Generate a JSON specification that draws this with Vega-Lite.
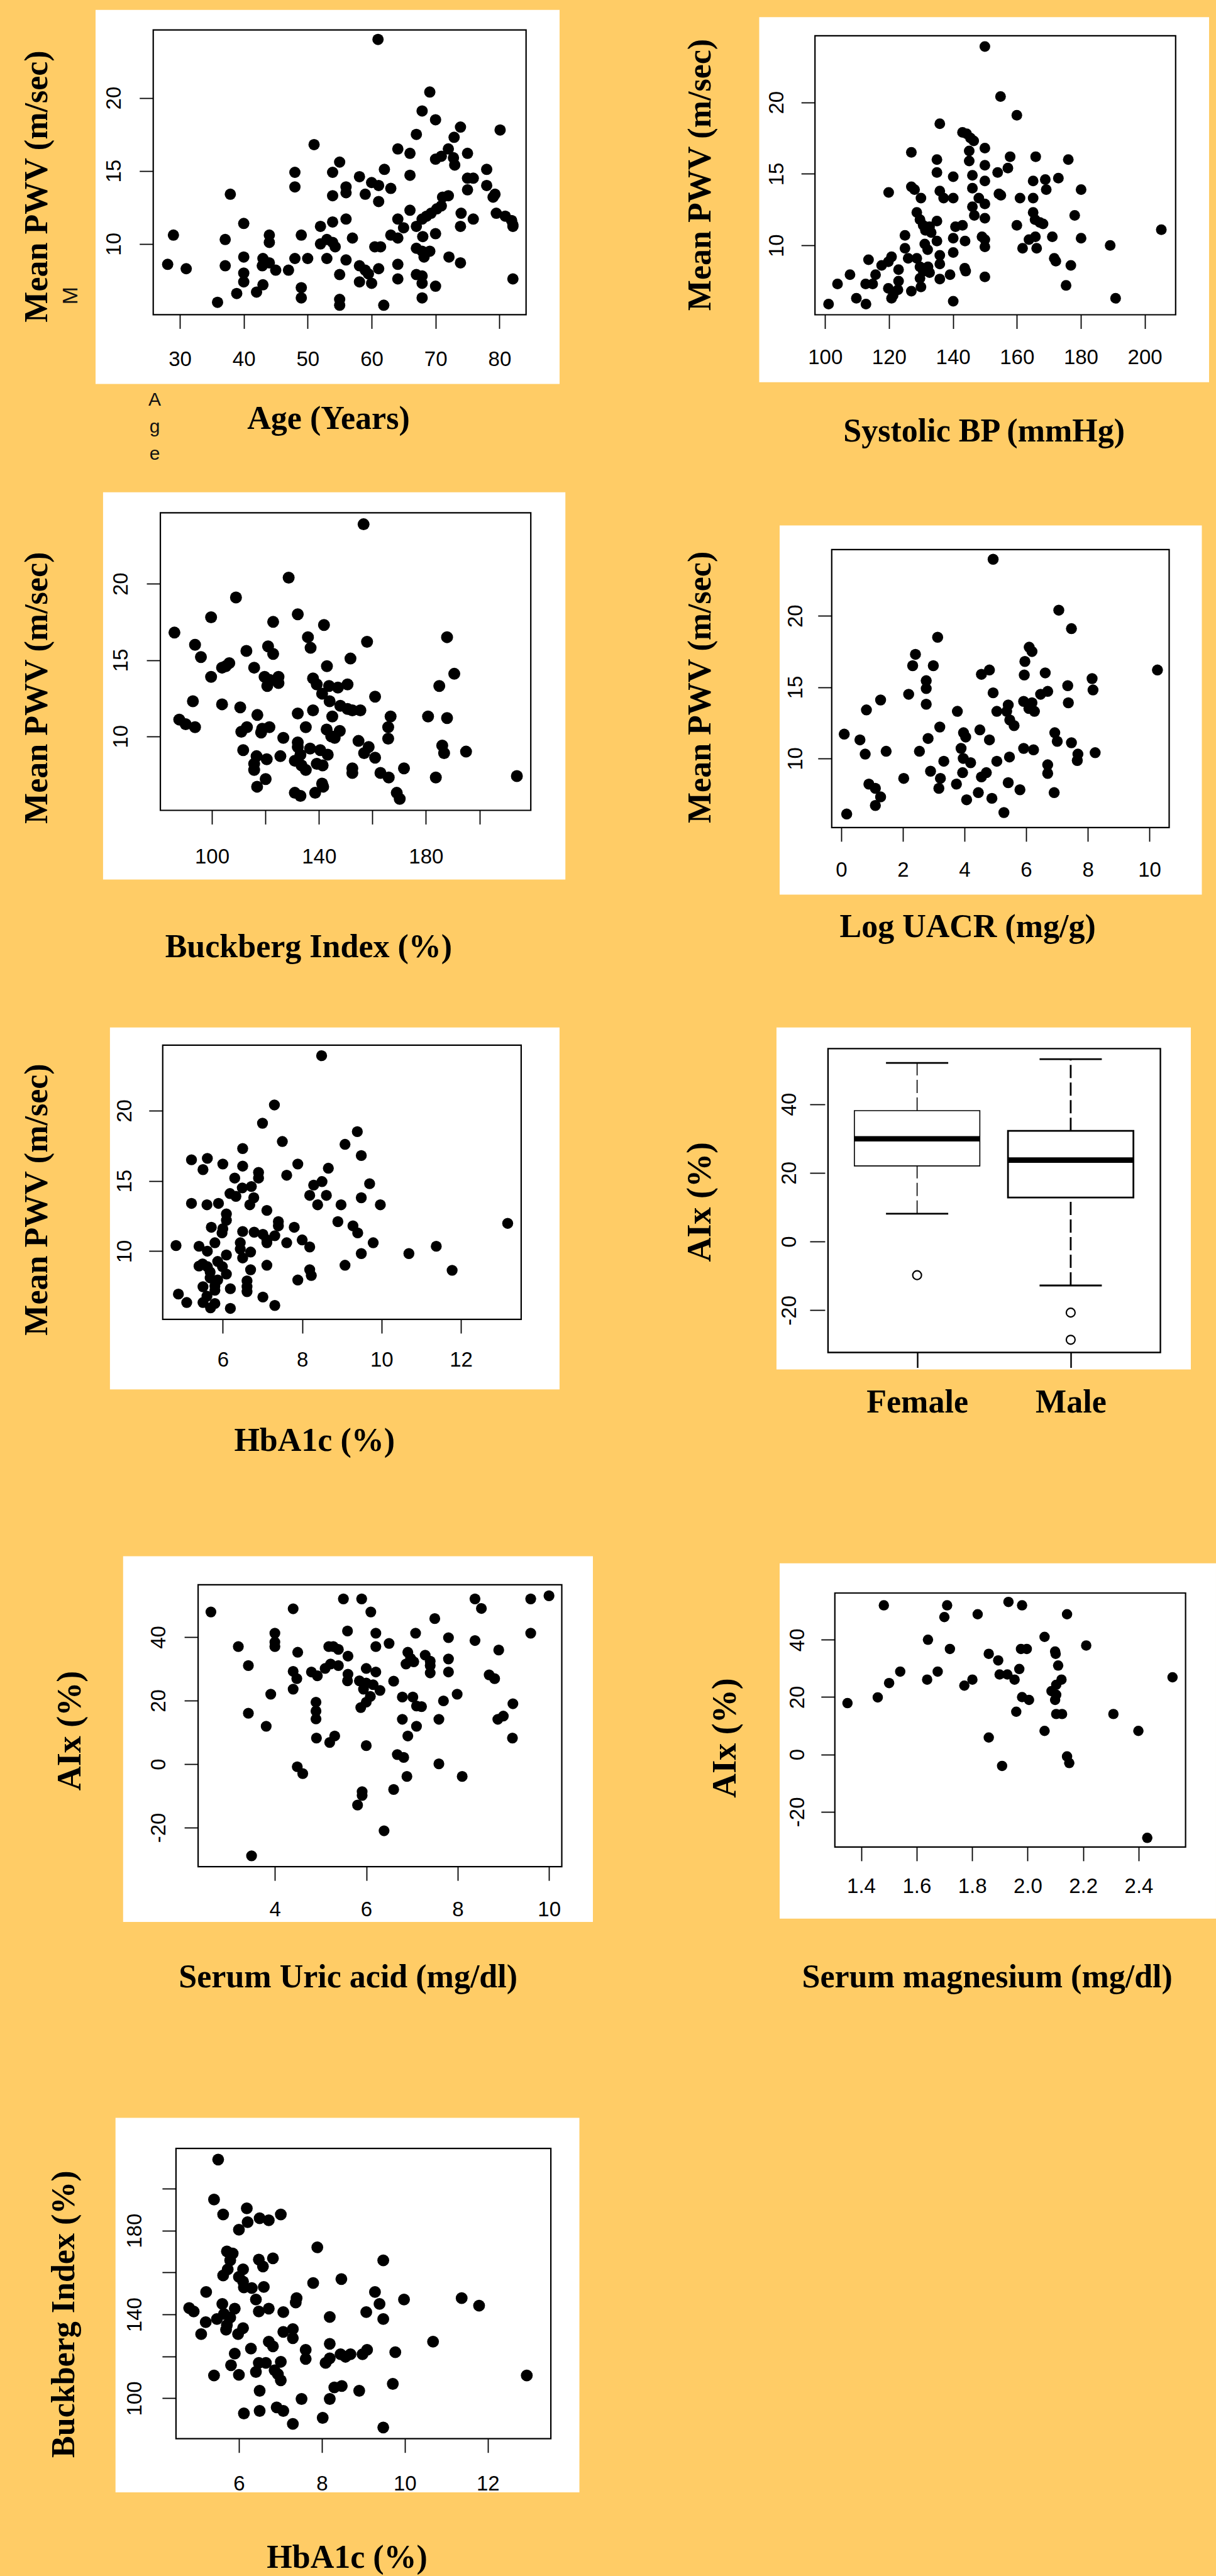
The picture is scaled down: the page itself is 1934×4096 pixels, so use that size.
{
"$schema": "https://vega.github.io/schema/vega-lite/v6.json",
"background": "#FFCC66",
"padding": 0,
"columns": 2,
"spacing": 0,
"bounds": "flush",
"align": "each",
"config": {
  "view": {"fill": "#FFCC66", "stroke": null},
  "axis": {"domain": false, "grid": false, "ticks": true, "tickSize": 22, "tickWidth": 1.8, "tickColor": "black", "labelFont": "Liberation Sans", "labelFontSize": 33, "labelColor": "black", "labelOverlap": false, "labelFlush": false, "labelLimit": 1000, "titleFont": "Liberation Serif", "titleFontSize": 52, "titleFontWeight": "bold", "titleColor": "black", "titleAlign": "center", "titleBaseline": "alphabetic", "titleLimit": 3000, "zindex": 1}
},
"concat": [
{
 "width": 967, "height": 750,
 "layer": [
  {"data": {"values": [{}]}, "mark": {"type": "rect", "fill": "white"},
   "encoding": {"x": {"datum": 16.82, "type": "quantitative", "scale": {"domain": [25.84, 84.16], "range": [243.7, 836.7], "nice": false, "zero": false}}, "x2": {"datum": 89.4},
                "y": {"datum": 0.41, "type": "quantitative", "scale": {"domain": [5.15, 24.65], "range": [500.4, 47.6], "nice": false, "zero": false}}, "y2": {"datum": 26.02}}},
  {"data": {"values": [{}]}, "mark": {"type": "text", "text": "M", "angle": 270, "align": "center", "baseline": "alphabetic", "font": "Liberation Sans", "fontSize": 34, "color": "#111"},
   "encoding": {"x": {"datum": 13.95, "type": "quantitative", "scale": {"domain": [25.84, 84.16], "range": [243.7, 836.7], "nice": false, "zero": false}},
                "y": {"datum": 6.46, "type": "quantitative", "scale": {"domain": [5.15, 24.65], "range": [500.4, 47.6], "nice": false, "zero": false}}}},
  {"data": {"values": [{}]}, "mark": {"type": "text", "text": ["A", "g", "e"], "lineHeight": 43, "align": "center", "baseline": "alphabetic", "font": "Liberation Sans", "fontSize": 30, "color": "#111"},
   "encoding": {"x": {"datum": 26.07, "type": "quantitative", "scale": {"domain": [25.84, 84.16], "range": [243.7, 836.7], "nice": false, "zero": false}},
                "y": {"datum": -1.06, "type": "quantitative", "scale": {"domain": [5.15, 24.65], "range": [500.4, 47.6], "nice": false, "zero": false}}}},
  {"data": {"values": [{}]}, "mark": {"type": "rect", "fillOpacity": 0, "stroke": "black", "strokeWidth": 2.2},
   "encoding": {"x": {"datum": 25.84, "type": "quantitative", "scale": {"domain": [25.84, 84.16], "range": [243.7, 836.7], "nice": false, "zero": false}}, "x2": {"datum": 84.16},
                "y": {"datum": 5.15, "type": "quantitative", "scale": {"domain": [5.15, 24.65], "range": [500.4, 47.6], "nice": false, "zero": false}}, "y2": {"datum": 24.65}}},
  {"data": {"values": [
{"x":61.0,"y":24.0},{"x":69.1,"y":20.4},{"x":67.9,"y":19.1},{"x":70.0,"y":18.5},{"x":73.9,"y":18.0},{"x":80.1,"y":17.8},{"x":67.0,"y":17.5},{"x":72.9,"y":17.3},{"x":51.0,"y":16.8},{"x":64.1,"y":16.5},{"x":72.0,"y":16.5},{"x":66.0,"y":16.2},{"x":75.0,"y":16.2},{"x":70.9,"y":16.0},{"x":70.0,"y":15.8},{"x":72.8,"y":15.9},{"x":73.0,"y":15.4},{"x":55.0,"y":15.6},{"x":62.0,"y":15.1},{"x":78.0,"y":15.1},{"x":48.0,"y":14.9},{"x":53.9,"y":14.9},{"x":66.0,"y":14.7},{"x":58.1,"y":14.6},{"x":75.0,"y":14.5},{"x":75.9,"y":14.5},{"x":60.0,"y":14.2},{"x":61.1,"y":14.0},{"x":48.0,"y":13.9},{"x":56.0,"y":13.9},{"x":78.0,"y":14.0},{"x":63.0,"y":13.8},{"x":75.0,"y":13.7},{"x":56.0,"y":13.5},{"x":37.9,"y":13.4},{"x":59.0,"y":13.4},{"x":53.9,"y":13.3},{"x":79.3,"y":13.4},{"x":79.0,"y":13.2},{"x":71.1,"y":13.2},{"x":72.0,"y":13.3},{"x":61.1,"y":12.9},{"x":70.9,"y":12.6},{"x":70.2,"y":12.4},{"x":69.3,"y":12.1},{"x":68.6,"y":11.9},{"x":67.9,"y":11.7},{"x":66.0,"y":12.3},{"x":74.0,"y":12.1},{"x":79.5,"y":12.1},{"x":80.9,"y":11.9},{"x":81.9,"y":11.6},{"x":82.1,"y":11.3},{"x":82.1,"y":11.2},{"x":75.9,"y":11.7},{"x":64.1,"y":11.7},{"x":56.0,"y":11.7},{"x":53.9,"y":11.5},{"x":40.0,"y":11.4},{"x":52.0,"y":11.2},{"x":65.0,"y":11.1},{"x":67.0,"y":11.2},{"x":73.9,"y":11.2},{"x":70.0,"y":10.7},{"x":63.0,"y":10.6},{"x":64.1,"y":10.4},{"x":29.0,"y":10.6},{"x":37.1,"y":10.3},{"x":44.0,"y":10.6},{"x":44.0,"y":10.1},{"x":49.0,"y":10.6},{"x":57.0,"y":10.4},{"x":68.0,"y":10.5},{"x":53.0,"y":10.3},{"x":53.9,"y":10.1},{"x":52.0,"y":10.0},{"x":54.3,"y":9.8},{"x":60.5,"y":9.8},{"x":61.4,"y":9.8},{"x":67.0,"y":9.7},{"x":67.9,"y":9.5},{"x":69.1,"y":9.5},{"x":68.2,"y":9.1},{"x":72.1,"y":9.1},{"x":40.0,"y":9.1},{"x":48.0,"y":9.0},{"x":50.0,"y":9.0},{"x":53.0,"y":9.0},{"x":43.0,"y":9.0},{"x":56.0,"y":8.9},{"x":44.0,"y":8.7},{"x":28.1,"y":8.6},{"x":37.1,"y":8.5},{"x":42.9,"y":8.5},{"x":73.9,"y":8.7},{"x":64.1,"y":8.6},{"x":58.1,"y":8.5},{"x":31.0,"y":8.3},{"x":45.0,"y":8.2},{"x":47.0,"y":8.2},{"x":61.1,"y":8.3},{"x":59.0,"y":8.2},{"x":40.0,"y":8.0},{"x":55.0,"y":7.9},{"x":67.0,"y":7.9},{"x":67.9,"y":7.8},{"x":59.5,"y":7.95},{"x":82.1,"y":7.6},{"x":64.1,"y":7.6},{"x":40.0,"y":7.4},{"x":58.1,"y":7.4},{"x":60.0,"y":7.3},{"x":67.9,"y":7.3},{"x":43.0,"y":7.2},{"x":70.0,"y":7.1},{"x":49.0,"y":7.0},{"x":42.0,"y":6.7},{"x":38.9,"y":6.6},{"x":49.0,"y":6.3},{"x":67.9,"y":6.3},{"x":35.9,"y":6.0},{"x":55.0,"y":6.2},{"x":55.0,"y":5.8},{"x":61.9,"y":5.8}
  ]},
   "mark": {"type": "circle", "size": 324, "color": "black", "opacity": 1},
   "encoding": {
    "x": {"field": "x", "type": "quantitative", "scale": {"domain": [25.84, 84.16], "range": [243.7, 836.7], "nice": false, "zero": false},
          "axis": {"zindex": 1, "format": "d", "values": [30, 40, 50, 60, 70, 80], "offset": -249.6, "labelPadding": 59, "labelAngle": 0, "labelAlign": "center", "labelBaseline": "alphabetic", "title": "Age (Years)", "titleAngle": 0, "titleX": 522, "titleY": 180.9}},
    "y": {"field": "y", "type": "quantitative", "scale": {"domain": [5.15, 24.65], "range": [500.4, 47.6], "nice": false, "zero": false},
          "axis": {"zindex": 1, "format": "d", "values": [10, 15, 20], "offset": -243.7, "labelPadding": 30.6, "labelAngle": 270, "labelAlign": "center", "labelBaseline": "alphabetic", "title": "Mean PWV (m/sec)", "titleAngle": 270, "titleX": -169.6, "titleY": 296}}
   }}
 ]
},
{
 "width": 967, "height": 750,
 "layer": [
  {"data": {"values": [{}]}, "mark": {"type": "rect", "fill": "white"},
   "encoding": {"x": {"datum": 79.4, "type": "quantitative", "scale": {"domain": [96.85, 209.68], "range": [329.2, 902.8], "nice": false, "zero": false}}, "x2": {"datum": 220.14},
                "y": {"datum": 0.44, "type": "quantitative", "scale": {"domain": [5.15, 24.65], "range": [500.5, 56.9], "nice": false, "zero": false}}, "y2": {"datum": 25.95}}},
  {"data": {"values": [{}]}, "mark": {"type": "rect", "fillOpacity": 0, "stroke": "black", "strokeWidth": 2.2},
   "encoding": {"x": {"datum": 96.85, "type": "quantitative", "scale": {"domain": [96.85, 209.68], "range": [329.2, 902.8], "nice": false, "zero": false}}, "x2": {"datum": 209.68},
                "y": {"datum": 5.15, "type": "quantitative", "scale": {"domain": [5.15, 24.65], "range": [500.5, 56.9], "nice": false, "zero": false}}, "y2": {"datum": 24.65}}},
  {"data": {"values": [
{"x":150.0,"y":23.9},{"x":154.9,"y":20.4},{"x":160.0,"y":19.1},{"x":135.9,"y":18.5},{"x":143.0,"y":17.9},{"x":144.3,"y":17.8},{"x":145.5,"y":17.5},{"x":146.5,"y":17.3},{"x":127.0,"y":16.5},{"x":150.0,"y":16.8},{"x":145.1,"y":16.6},{"x":145.1,"y":15.9},{"x":157.9,"y":16.2},{"x":165.9,"y":16.2},{"x":176.1,"y":16.0},{"x":135.0,"y":16.0},{"x":150.0,"y":15.6},{"x":157.2,"y":15.4},{"x":154.0,"y":15.1},{"x":135.0,"y":15.1},{"x":146.1,"y":14.9},{"x":140.1,"y":14.8},{"x":168.9,"y":14.6},{"x":173.0,"y":14.7},{"x":165.1,"y":14.5},{"x":150.0,"y":14.5},{"x":146.1,"y":14.0},{"x":127.0,"y":14.1},{"x":128.0,"y":13.9},{"x":169.2,"y":13.9},{"x":180.1,"y":13.9},{"x":119.9,"y":13.7},{"x":135.9,"y":13.8},{"x":154.4,"y":13.6},{"x":155.0,"y":13.5},{"x":137.1,"y":13.3},{"x":140.1,"y":13.3},{"x":130.0,"y":13.3},{"x":161.0,"y":13.3},{"x":165.1,"y":13.3},{"x":148.1,"y":13.3},{"x":150.0,"y":12.9},{"x":146.1,"y":12.7},{"x":128.7,"y":12.3},{"x":165.1,"y":12.3},{"x":178.1,"y":12.1},{"x":146.7,"y":12.1},{"x":150.0,"y":11.9},{"x":129.7,"y":11.8},{"x":135.0,"y":11.7},{"x":165.7,"y":11.8},{"x":167.2,"y":11.6},{"x":168.2,"y":11.5},{"x":130.7,"y":11.4},{"x":132.7,"y":11.3},{"x":143.0,"y":11.4},{"x":160.0,"y":11.4},{"x":140.8,"y":11.3},{"x":205.2,"y":11.1},{"x":131.4,"y":11.05},{"x":133.2,"y":10.9},{"x":125.0,"y":10.7},{"x":171.1,"y":10.6},{"x":180.1,"y":10.5},{"x":149.1,"y":10.6},{"x":140.1,"y":10.5},{"x":165.8,"y":10.6},{"x":163.8,"y":10.4},{"x":150.0,"y":10.4},{"x":143.8,"y":10.3},{"x":135.0,"y":10.3},{"x":131.2,"y":10.1},{"x":150.0,"y":9.9},{"x":189.2,"y":10.0},{"x":161.8,"y":9.8},{"x":166.2,"y":9.8},{"x":125.0,"y":9.8},{"x":132.1,"y":9.7},{"x":140.1,"y":9.5},{"x":120.8,"y":9.2},{"x":135.9,"y":9.3},{"x":126.0,"y":9.1},{"x":128.7,"y":9.1},{"x":113.6,"y":9.0},{"x":171.7,"y":9.1},{"x":172.2,"y":8.9},{"x":119.8,"y":8.85},{"x":117.7,"y":8.6},{"x":135.9,"y":8.7},{"x":176.9,"y":8.6},{"x":129.7,"y":8.5},{"x":132.2,"y":8.5},{"x":143.7,"y":8.4},{"x":123.0,"y":8.3},{"x":130.7,"y":8.2},{"x":144.0,"y":8.2},{"x":132.7,"y":8.1},{"x":115.8,"y":7.95},{"x":107.8,"y":7.95},{"x":139.1,"y":7.95},{"x":150.0,"y":7.8},{"x":129.7,"y":7.7},{"x":135.9,"y":7.65},{"x":123.0,"y":7.5},{"x":103.9,"y":7.3},{"x":112.7,"y":7.3},{"x":114.9,"y":7.3},{"x":175.4,"y":7.2},{"x":130.0,"y":7.1},{"x":119.8,"y":7.0},{"x":122.8,"y":6.9},{"x":127.0,"y":6.8},{"x":121.3,"y":6.5},{"x":109.8,"y":6.3},{"x":120.8,"y":6.3},{"x":140.1,"y":6.1},{"x":190.9,"y":6.3},{"x":101.1,"y":5.9},{"x":112.8,"y":5.9}
  ]},
   "mark": {"type": "circle", "size": 289, "color": "black", "opacity": 1},
   "encoding": {
    "x": {"field": "x", "type": "quantitative", "scale": {"domain": [96.85, 209.68], "range": [329.2, 902.8], "nice": false, "zero": false},
          "axis": {"zindex": 1, "format": "d", "values": [100, 120, 140, 160, 180, 200], "offset": -249.5, "labelPadding": 55.6, "labelAngle": 0, "labelAlign": "center", "labelBaseline": "alphabetic", "title": "Systolic BP (mmHg)", "titleAngle": 0, "titleX": 597.7, "titleY": 201.3}},
    "y": {"field": "y", "type": "quantitative", "scale": {"domain": [5.15, 24.65], "range": [500.5, 56.9], "nice": false, "zero": false},
          "axis": {"zindex": 1, "format": "d", "values": [10, 15, 20], "offset": -329.2, "labelPadding": 29.2, "labelAngle": 270, "labelAlign": "center", "labelBaseline": "alphabetic", "title": "Mean PWV (m/sec)", "titleAngle": 270, "titleX": -167.2, "titleY": 277.5}}
   }}
 ]
},
{
 "width": 967, "height": 830,
 "layer": [
  {"data": {"values": [{}]}, "mark": {"type": "rect", "fill": "white"},
   "encoding": {"x": {"datum": 59.32, "type": "quantitative", "scale": {"domain": [80.74, 219.2], "range": [255.05, 844.2], "nice": false, "zero": false}}, "x2": {"datum": 232.13},
                "y": {"datum": 0.616, "type": "quantitative", "scale": {"domain": [5.15, 24.65], "range": [538.5, 65.4], "nice": false, "zero": false}}, "y2": {"datum": 26.0}}},
  {"data": {"values": [{}]}, "mark": {"type": "rect", "fillOpacity": 0, "stroke": "black", "strokeWidth": 2.2},
   "encoding": {"x": {"datum": 80.74, "type": "quantitative", "scale": {"domain": [80.74, 219.2], "range": [255.05, 844.2], "nice": false, "zero": false}}, "x2": {"datum": 219.2},
                "y": {"datum": 5.15, "type": "quantitative", "scale": {"domain": [5.15, 24.65], "range": [538.5, 65.4], "nice": false, "zero": false}}, "y2": {"datum": 24.65}}},
  {"data": {"values": [
{"x":156.7,"y":23.9},{"x":128.7,"y":20.4},{"x":109.0,"y":19.1},{"x":99.7,"y":17.8},{"x":132.1,"y":18.0},{"x":122.9,"y":17.5},{"x":141.9,"y":17.3},{"x":86.0,"y":16.8},{"x":187.9,"y":16.5},{"x":135.9,"y":16.5},{"x":93.7,"y":16.0},{"x":121.0,"y":15.9},{"x":136.9,"y":15.8},{"x":158.0,"y":16.2},{"x":112.9,"y":15.6},{"x":122.9,"y":15.4},{"x":95.9,"y":15.2},{"x":151.8,"y":15.1},{"x":106.5,"y":14.8},{"x":105.2,"y":14.6},{"x":103.8,"y":14.5},{"x":115.8,"y":14.5},{"x":143.0,"y":14.6},{"x":190.6,"y":14.1},{"x":99.7,"y":13.9},{"x":119.7,"y":13.9},{"x":124.9,"y":13.9},{"x":121.5,"y":13.7},{"x":137.8,"y":13.8},{"x":124.9,"y":13.5},{"x":120.7,"y":13.3},{"x":139.2,"y":13.4},{"x":143.8,"y":13.3},{"x":147.1,"y":13.2},{"x":150.7,"y":13.4},{"x":185.0,"y":13.3},{"x":141.2,"y":12.8},{"x":161.0,"y":12.6},{"x":92.9,"y":12.3},{"x":103.8,"y":12.1},{"x":144.0,"y":12.3},{"x":148.0,"y":12.0},{"x":110.6,"y":11.9},{"x":150.7,"y":11.8},{"x":152.5,"y":11.7},{"x":155.5,"y":11.7},{"x":137.8,"y":11.7},{"x":132.1,"y":11.5},{"x":117.0,"y":11.4},{"x":145.0,"y":11.3},{"x":166.8,"y":11.3},{"x":180.8,"y":11.3},{"x":187.9,"y":11.2},{"x":87.8,"y":11.1},{"x":90.2,"y":10.8},{"x":93.7,"y":10.6},{"x":165.9,"y":10.6},{"x":113.1,"y":10.6},{"x":121.5,"y":10.6},{"x":118.8,"y":10.5},{"x":135.1,"y":10.6},{"x":111.0,"y":10.3},{"x":142.9,"y":10.45},{"x":147.8,"y":10.35},{"x":118.4,"y":10.25},{"x":144.6,"y":10.0},{"x":145.9,"y":9.9},{"x":126.7,"y":9.9},{"x":165.9,"y":9.85},{"x":154.8,"y":9.7},{"x":132.1,"y":9.6},{"x":132.1,"y":9.3},{"x":158.6,"y":9.3},{"x":136.7,"y":9.2},{"x":111.7,"y":9.1},{"x":186.1,"y":9.4},{"x":186.8,"y":8.9},{"x":195.0,"y":9.0},{"x":140.5,"y":9.1},{"x":156.9,"y":8.9},{"x":116.7,"y":8.7},{"x":125.6,"y":8.7},{"x":133.1,"y":8.8},{"x":143.3,"y":8.8},{"x":120.5,"y":8.5},{"x":161.0,"y":8.6},{"x":131.0,"y":8.4},{"x":139.2,"y":8.2},{"x":141.4,"y":8.1},{"x":115.8,"y":8.2},{"x":133.5,"y":8.1},{"x":152.5,"y":7.9},{"x":171.8,"y":7.9},{"x":115.8,"y":7.8},{"x":135.1,"y":7.8},{"x":152.5,"y":7.6},{"x":163.0,"y":7.6},{"x":166.1,"y":7.3},{"x":183.7,"y":7.3},{"x":214.0,"y":7.4},{"x":120.1,"y":7.2},{"x":141.2,"y":6.9},{"x":116.9,"y":6.7},{"x":141.6,"y":6.7},{"x":131.0,"y":6.3},{"x":133.1,"y":6.1},{"x":138.6,"y":6.3},{"x":169.1,"y":6.3},{"x":170.2,"y":5.9}
  ]},
   "mark": {"type": "circle", "size": 361, "color": "black", "opacity": 1},
   "encoding": {
    "x": {"field": "x", "type": "quantitative", "scale": {"domain": [80.74, 219.2], "range": [255.05, 844.2], "nice": false, "zero": false},
          "axis": {"zindex": 1, "format": "d", "values": [100, 120, 140, 160, 180, 200], "labelExpr": "(datum.value == 120 || datum.value == 160 || datum.value == 200) ? '' : datum.label", "offset": -291.5, "labelPadding": 62, "labelAngle": 0, "labelAlign": "center", "labelBaseline": "alphabetic", "title": "Buckberg Index (%)", "titleAngle": 0, "titleX": 490.4, "titleY": 232.7}},
    "y": {"field": "y", "type": "quantitative", "scale": {"domain": [5.15, 24.65], "range": [538.5, 65.4], "nice": false, "zero": false},
          "axis": {"zindex": 1, "format": "d", "values": [10, 15, 20], "offset": -255.05, "labelPadding": 30.35, "labelAngle": 270, "labelAlign": "center", "labelBaseline": "alphabetic", "title": "Mean PWV (m/sec)", "titleAngle": 270, "titleX": -180.95, "titleY": 343.3}}
   }}
 ]
},
{
 "width": 967, "height": 830,
 "layer": [
  {"data": {"values": [{}]}, "mark": {"type": "rect", "fill": "white"},
   "encoding": {"x": {"datum": -1.995, "type": "quantitative", "scale": {"domain": [-0.306, 10.64], "range": [355.8, 892.5], "nice": false, "zero": false}}, "x2": {"datum": 11.7},
                "y": {"datum": 0.44, "type": "quantitative", "scale": {"domain": [5.15, 24.65], "range": [565.85, 123.8], "nice": false, "zero": false}}, "y2": {"datum": 26.34}}},
  {"data": {"values": [{}]}, "mark": {"type": "rect", "fillOpacity": 0, "stroke": "black", "strokeWidth": 2.2},
   "encoding": {"x": {"datum": -0.306, "type": "quantitative", "scale": {"domain": [-0.306, 10.64], "range": [355.8, 892.5], "nice": false, "zero": false}}, "x2": {"datum": 10.64},
                "y": {"datum": 5.15, "type": "quantitative", "scale": {"domain": [5.15, 24.65], "range": [565.85, 123.8], "nice": false, "zero": false}}, "y2": {"datum": 24.65}}},
  {"data": {"values": [
{"x":4.93,"y":23.97},{"x":7.06,"y":20.4},{"x":7.47,"y":19.1},{"x":3.13,"y":18.5},{"x":6.10,"y":17.8},{"x":6.19,"y":17.5},{"x":2.41,"y":17.3},{"x":2.32,"y":16.5},{"x":2.99,"y":16.5},{"x":5.96,"y":16.8},{"x":4.81,"y":16.2},{"x":4.55,"y":15.9},{"x":10.26,"y":16.2},{"x":6.62,"y":16.0},{"x":5.94,"y":15.85},{"x":8.14,"y":15.6},{"x":2.76,"y":15.45},{"x":2.76,"y":14.9},{"x":7.35,"y":15.1},{"x":8.17,"y":14.8},{"x":6.70,"y":14.7},{"x":6.47,"y":14.5},{"x":4.93,"y":14.6},{"x":2.19,"y":14.5},{"x":1.28,"y":14.1},{"x":5.92,"y":14.0},{"x":6.19,"y":13.9},{"x":2.76,"y":13.8},{"x":7.37,"y":13.9},{"x":5.42,"y":13.75},{"x":6.09,"y":13.5},{"x":6.27,"y":13.3},{"x":0.82,"y":13.4},{"x":3.77,"y":13.3},{"x":5.05,"y":13.3},{"x":5.37,"y":13.3},{"x":5.47,"y":12.7},{"x":5.61,"y":12.3},{"x":3.20,"y":12.2},{"x":4.50,"y":12.0},{"x":3.97,"y":11.8},{"x":4.04,"y":11.5},{"x":6.93,"y":11.8},{"x":7.01,"y":11.2},{"x":0.10,"y":11.7},{"x":2.82,"y":11.4},{"x":0.61,"y":11.3},{"x":4.81,"y":11.3},{"x":7.47,"y":11.1},{"x":3.89,"y":10.7},{"x":5.92,"y":10.7},{"x":6.24,"y":10.6},{"x":1.46,"y":10.5},{"x":2.54,"y":10.5},{"x":0.78,"y":10.3},{"x":7.68,"y":10.3},{"x":8.24,"y":10.4},{"x":3.96,"y":10.0},{"x":5.46,"y":10.1},{"x":3.33,"y":9.8},{"x":5.05,"y":9.8},{"x":4.20,"y":9.7},{"x":7.66,"y":9.85},{"x":6.70,"y":9.55},{"x":2.90,"y":9.1},{"x":3.94,"y":9.0},{"x":4.71,"y":9.0},{"x":4.55,"y":8.7},{"x":6.70,"y":8.95},{"x":2.03,"y":8.6},{"x":3.22,"y":8.6},{"x":0.90,"y":8.2},{"x":1.11,"y":7.9},{"x":3.74,"y":8.2},{"x":5.42,"y":8.3},{"x":3.17,"y":7.9},{"x":5.80,"y":7.8},{"x":6.91,"y":7.6},{"x":4.45,"y":7.6},{"x":1.28,"y":7.3},{"x":4.89,"y":7.2},{"x":4.07,"y":7.1},{"x":1.11,"y":6.7},{"x":0.18,"y":6.1},{"x":5.28,"y":6.2}
  ]},
   "mark": {"type": "circle", "size": 306, "color": "black", "opacity": 1},
   "encoding": {
    "x": {"field": "x", "type": "quantitative", "scale": {"domain": [-0.306, 10.64], "range": [355.8, 892.5], "nice": false, "zero": false},
          "axis": {"zindex": 1, "format": "d", "values": [0, 2, 4, 6, 8, 10], "offset": -264.15, "labelPadding": 55.75, "labelAngle": 0, "labelAlign": "center", "labelBaseline": "alphabetic", "title": "Log UACR (mg/g)", "titleAngle": 0, "titleX": 571.6, "titleY": 173.85}},
    "y": {"field": "y", "type": "quantitative", "scale": {"domain": [5.15, 24.65], "range": [565.85, 123.8], "nice": false, "zero": false},
          "axis": {"zindex": 1, "format": "d", "values": [10, 15, 20], "offset": -355.8, "labelPadding": 25.7, "labelAngle": 270, "labelAlign": "center", "labelBaseline": "alphabetic", "title": "Mean PWV (m/sec)", "titleAngle": 270, "titleX": -193.8, "titleY": 342.4}}
   }}
 ]
},
{
 "width": 967, "height": 820,
 "layer": [
  {"data": {"values": [{}]}, "mark": {"type": "rect", "fill": "white"},
   "encoding": {"x": {"datum": 3.155, "type": "quantitative", "scale": {"domain": [4.485, 13.52], "range": [258.8, 828.9], "nice": false, "zero": false}}, "x2": {"datum": 14.487},
                "y": {"datum": 0.168, "type": "quantitative", "scale": {"domain": [5.15, 24.65], "range": [517.9, 81.9], "nice": false, "zero": false}}, "y2": {"datum": 25.91}}},
  {"data": {"values": [{}]}, "mark": {"type": "rect", "fillOpacity": 0, "stroke": "black", "strokeWidth": 2.2},
   "encoding": {"x": {"datum": 4.485, "type": "quantitative", "scale": {"domain": [4.485, 13.52], "range": [258.8, 828.9], "nice": false, "zero": false}}, "x2": {"datum": 13.52},
                "y": {"datum": 5.15, "type": "quantitative", "scale": {"domain": [5.15, 24.65], "range": [517.9, 81.9], "nice": false, "zero": false}}, "y2": {"datum": 24.65}}},
  {"data": {"values": [
{"x":8.49,"y":23.9},{"x":7.30,"y":20.4},{"x":7.00,"y":19.1},{"x":9.39,"y":18.5},{"x":7.50,"y":17.8},{"x":9.08,"y":17.6},{"x":6.50,"y":17.3},{"x":9.49,"y":16.8},{"x":5.21,"y":16.5},{"x":5.61,"y":16.6},{"x":6.00,"y":16.2},{"x":6.50,"y":16.05},{"x":7.89,"y":16.2},{"x":5.50,"y":15.8},{"x":8.66,"y":15.9},{"x":6.90,"y":15.6},{"x":7.61,"y":15.4},{"x":6.90,"y":15.2},{"x":6.30,"y":15.2},{"x":8.50,"y":14.95},{"x":8.29,"y":14.7},{"x":9.70,"y":14.8},{"x":6.72,"y":14.6},{"x":6.49,"y":14.5},{"x":6.18,"y":14.1},{"x":6.33,"y":13.9},{"x":8.19,"y":13.97},{"x":8.61,"y":13.97},{"x":6.78,"y":13.8},{"x":9.49,"y":13.8},{"x":5.21,"y":13.4},{"x":5.60,"y":13.3},{"x":5.89,"y":13.4},{"x":6.68,"y":13.3},{"x":8.39,"y":13.3},{"x":8.98,"y":13.3},{"x":9.97,"y":13.3},{"x":7.11,"y":12.9},{"x":6.09,"y":12.65},{"x":6.09,"y":12.2},{"x":7.40,"y":12.1},{"x":8.90,"y":12.1},{"x":13.18,"y":11.98},{"x":7.40,"y":11.8},{"x":5.71,"y":11.7},{"x":7.80,"y":11.7},{"x":9.28,"y":11.8},{"x":6.00,"y":11.6},{"x":6.50,"y":11.4},{"x":6.79,"y":11.35},{"x":9.40,"y":11.3},{"x":5.98,"y":11.3},{"x":7.01,"y":11.2},{"x":7.31,"y":11.1},{"x":7.11,"y":10.8},{"x":8.00,"y":10.8},{"x":5.80,"y":10.6},{"x":7.11,"y":10.6},{"x":7.61,"y":10.6},{"x":9.79,"y":10.6},{"x":6.44,"y":10.6},{"x":4.82,"y":10.4},{"x":5.40,"y":10.35},{"x":8.19,"y":10.3},{"x":11.38,"y":10.35},{"x":6.44,"y":10.15},{"x":5.61,"y":10.0},{"x":6.70,"y":9.94},{"x":10.69,"y":9.83},{"x":9.49,"y":9.83},{"x":6.09,"y":9.73},{"x":6.50,"y":9.52},{"x":5.87,"y":9.27},{"x":5.49,"y":9.1},{"x":5.40,"y":8.94},{"x":5.61,"y":8.9},{"x":5.99,"y":8.9},{"x":7.11,"y":9.0},{"x":9.08,"y":9.0},{"x":6.70,"y":8.68},{"x":11.78,"y":8.64},{"x":5.68,"y":8.52},{"x":6.09,"y":8.37},{"x":8.19,"y":8.68},{"x":8.23,"y":8.27},{"x":5.68,"y":8.1},{"x":7.89,"y":7.95},{"x":5.87,"y":7.95},{"x":6.61,"y":7.89},{"x":5.50,"y":7.47},{"x":5.80,"y":7.53},{"x":6.61,"y":7.47},{"x":6.19,"y":7.33},{"x":5.80,"y":7.22},{"x":6.61,"y":7.12},{"x":4.88,"y":6.95},{"x":5.60,"y":6.8},{"x":7.01,"y":6.74},{"x":5.09,"y":6.35},{"x":5.50,"y":6.35},{"x":5.80,"y":6.28},{"x":5.69,"y":5.97},{"x":6.19,"y":5.93},{"x":7.31,"y":6.14}
  ]},
   "mark": {"type": "circle", "size": 303, "color": "black", "opacity": 1},
   "encoding": {
    "x": {"field": "x", "type": "quantitative", "scale": {"domain": [4.485, 13.52], "range": [258.8, 828.9], "nice": false, "zero": false},
          "axis": {"zindex": 1, "format": "d", "values": [6, 8, 10, 12], "offset": -302.1, "labelPadding": 53, "labelAngle": 0, "labelAlign": "center", "labelBaseline": "alphabetic", "title": "HbA1c (%)", "titleAngle": 0, "titleX": 499.7, "titleY": 208.1}},
    "y": {"field": "y", "type": "quantitative", "scale": {"domain": [5.15, 24.65], "range": [517.9, 81.9], "nice": false, "zero": false},
          "axis": {"zindex": 1, "format": "d", "values": [10, 15, 20], "offset": -258.8, "labelPadding": 28.4, "labelAngle": 270, "labelAlign": "center", "labelBaseline": "alphabetic", "title": "Mean PWV (m/sec)", "titleAngle": 270, "titleX": -184.7, "titleY": 327}}
   }}
 ]
},
{
 "width": 967, "height": 820,
 "layer": [
  {"data": {"values": [{}]}, "mark": {"type": "rect", "fill": "white"},
   "encoding": {"x": {"datum": 0.0844, "type": "quantitative", "scale": {"domain": [0.42, 2.584], "range": [344.94, 883.56], "nice": false, "zero": false}}, "x2": {"datum": 2.7822},
                "y": {"datum": -37.26, "type": "quantitative", "scale": {"domain": [-32.3, 56.15], "range": [570.5, 87.4], "nice": false, "zero": false}}, "y2": {"datum": 62.3}}},
  {"data": {"values": [{}]}, "mark": {"type": "rect", "fillOpacity": 0, "stroke": "black", "strokeWidth": 2.4},
   "encoding": {"x": {"datum": 0.42, "type": "quantitative", "scale": {"domain": [0.42, 2.584], "range": [344.94, 883.56], "nice": false, "zero": false}}, "x2": {"datum": 2.584},
                "y": {"datum": -32.3, "type": "quantitative", "scale": {"domain": [-32.3, 56.15], "range": [570.5, 87.4], "nice": false, "zero": false}}, "y2": {"datum": 56.15}}},
  {"data": {"values": [{"g":1,"lo":8.1,"q1":22.0,"med":29.9,"q3":38.1,"hi":52.0},{"g":2,"lo":-12.8,"q1":12.8,"med":23.7,"q3":32.2,"hi":53.1}]},
   "mark": {"type": "rule", "color": "black", "strokeDash": [21, 7]},
   "encoding": {"x": {"field": "g", "type": "quantitative", "scale": {"domain": [0.42, 2.584], "range": [344.94, 883.56], "nice": false, "zero": false}},
                "y": {"field": "q3", "type": "quantitative", "scale": {"domain": [-32.3, 56.15], "range": [570.5, 87.4], "nice": false, "zero": false}}, "y2": {"field": "hi"},
                "strokeWidth": {"field": "g", "type": "ordinal", "scale": {"domain": [1, 2], "range": [1.6, 2.8]}, "legend": null}}},
  {"data": {"values": [{"g":1,"lo":8.1,"q1":22.0,"med":29.9,"q3":38.1,"hi":52.0},{"g":2,"lo":-12.8,"q1":12.8,"med":23.7,"q3":32.2,"hi":53.1}]},
   "mark": {"type": "rule", "color": "black", "strokeDash": [21, 7]},
   "encoding": {"x": {"field": "g", "type": "quantitative", "scale": {"domain": [0.42, 2.584], "range": [344.94, 883.56], "nice": false, "zero": false}},
                "y": {"field": "lo", "type": "quantitative", "scale": {"domain": [-32.3, 56.15], "range": [570.5, 87.4], "nice": false, "zero": false}}, "y2": {"field": "q1"},
                "strokeWidth": {"field": "g", "type": "ordinal", "scale": {"domain": [1, 2], "range": [1.6, 2.8]}, "legend": null}}},
  {"data": {"values": [{"g":1,"lo":8.1,"q1":22.0,"med":29.9,"q3":38.1,"hi":52.0},{"g":2,"lo":-12.8,"q1":12.8,"med":23.7,"q3":32.2,"hi":53.1}]},
   "mark": {"type": "tick", "orient": "horizontal", "size": 99, "thickness": 2.8, "color": "black", "opacity": 1},
   "encoding": {"x": {"field": "g", "type": "quantitative", "scale": {"domain": [0.42, 2.584], "range": [344.94, 883.56], "nice": false, "zero": false}},
                "y": {"field": "hi", "type": "quantitative", "scale": {"domain": [-32.3, 56.15], "range": [570.5, 87.4], "nice": false, "zero": false}}}},
  {"data": {"values": [{"g":1,"lo":8.1,"q1":22.0,"med":29.9,"q3":38.1,"hi":52.0},{"g":2,"lo":-12.8,"q1":12.8,"med":23.7,"q3":32.2,"hi":53.1}]},
   "mark": {"type": "tick", "orient": "horizontal", "size": 99, "thickness": 2.8, "color": "black", "opacity": 1},
   "encoding": {"x": {"field": "g", "type": "quantitative", "scale": {"domain": [0.42, 2.584], "range": [344.94, 883.56], "nice": false, "zero": false}},
                "y": {"field": "lo", "type": "quantitative", "scale": {"domain": [-32.3, 56.15], "range": [570.5, 87.4], "nice": false, "zero": false}}}},
  {"data": {"values": [{"g":1,"lo":8.1,"q1":22.0,"med":29.9,"q3":38.1,"hi":52.0},{"g":2,"lo":-12.8,"q1":12.8,"med":23.7,"q3":32.2,"hi":53.1}]},
   "mark": {"type": "bar", "width": 199.5, "fill": "white", "stroke": "black", "opacity": 1},
   "encoding": {"x": {"field": "g", "type": "quantitative", "scale": {"domain": [0.42, 2.584], "range": [344.94, 883.56], "nice": false, "zero": false},
                      "axis": {"zindex": 1, "values": [1, 2], "offset": -249.5, "tickSize": 24, "tickWidth": 2.4, "labelPadding": 70.8, "labelExpr": "datum.value == 1 ? 'Female' : 'Male'", "labelFont": "Liberation Serif", "labelFontWeight": "bold", "labelFontSize": 52, "labelAngle": 0, "labelAlign": "center", "labelBaseline": "alphabetic", "title": null}},
                "y": {"field": "q1", "type": "quantitative", "scale": {"domain": [-32.3, 56.15], "range": [570.5, 87.4], "nice": false, "zero": false},
                      "axis": {"zindex": 1, "format": "d", "values": [-20, 0, 20, 40], "labelExpr": "datum.value < 0 ? '-' + abs(datum.value) : datum.label", "offset": -344.94, "tickSize": 24, "labelPadding": 22.84, "labelAngle": 270, "labelAlign": "center", "labelBaseline": "alphabetic", "title": "AIx (%)", "titleFontSize": 54, "titleAngle": 270, "titleX": -182.94, "titleY": 330.7}},
                "y2": {"field": "q3"},
                "strokeWidth": {"field": "g", "type": "ordinal", "scale": {"domain": [1, 2], "range": [1.6, 2.8]}, "legend": null}}},
  {"data": {"values": [{"g":1,"lo":8.1,"q1":22.0,"med":29.9,"q3":38.1,"hi":52.0},{"g":2,"lo":-12.8,"q1":12.8,"med":23.7,"q3":32.2,"hi":53.1}]},
   "mark": {"type": "tick", "orient": "horizontal", "size": 199.5, "thickness": 8.6, "color": "black", "opacity": 1},
   "encoding": {"x": {"field": "g", "type": "quantitative", "scale": {"domain": [0.42, 2.584], "range": [344.94, 883.56], "nice": false, "zero": false}},
                "y": {"field": "med", "type": "quantitative", "scale": {"domain": [-32.3, 56.15], "range": [570.5, 87.4], "nice": false, "zero": false}}}},
  {"data": {"values": [{"g":1,"v":-9.8},{"g":2,"v":-20.7},{"g":2,"v":-28.6}]},
   "mark": {"type": "point", "filled": false, "size": 196, "stroke": "black", "strokeWidth": 2.2, "opacity": 1},
   "encoding": {"x": {"field": "g", "type": "quantitative", "scale": {"domain": [0.42, 2.584], "range": [344.94, 883.56], "nice": false, "zero": false}},
                "y": {"field": "v", "type": "quantitative", "scale": {"domain": [-32.3, 56.15], "range": [570.5, 87.4], "nice": false, "zero": false}}}}
 ]
},
{
 "width": 967, "height": 880,
 "layer": [
  {"data": {"values": [{}]}, "mark": {"type": "rect", "fill": "white"},
   "encoding": {"x": {"datum": 0.678, "type": "quantitative", "scale": {"domain": [2.32, 10.28], "range": [315.1, 893.5], "nice": false, "zero": false}}, "x2": {"datum": 10.961},
                "y": {"datum": -49.69, "type": "quantitative", "scale": {"domain": [-32.3, 56.45], "range": [568.1, 119.9], "nice": false, "zero": false}}, "y2": {"datum": 65.42}}},
  {"data": {"values": [{}]}, "mark": {"type": "rect", "fillOpacity": 0, "stroke": "black", "strokeWidth": 2.2},
   "encoding": {"x": {"datum": 2.32, "type": "quantitative", "scale": {"domain": [2.32, 10.28], "range": [315.1, 893.5], "nice": false, "zero": false}}, "x2": {"datum": 10.28},
                "y": {"datum": -32.3, "type": "quantitative", "scale": {"domain": [-32.3, 56.45], "range": [568.1, 119.9], "nice": false, "zero": false}}, "y2": {"datum": 56.45}}},
  {"data": {"values": [
{"x":2.60,"y":47.9},{"x":5.50,"y":52.0},{"x":5.90,"y":52.0},{"x":8.38,"y":52.0},{"x":9.60,"y":52.0},{"x":10.0,"y":53.0},{"x":4.40,"y":48.9},{"x":6.10,"y":47.9},{"x":8.52,"y":49.0},{"x":7.50,"y":45.8},{"x":5.59,"y":41.9},{"x":4.0,"y":41.2},{"x":6.21,"y":41.2},{"x":7.08,"y":41.2},{"x":9.60,"y":41.2},{"x":7.80,"y":39.8},{"x":8.38,"y":38.9},{"x":4.0,"y":38.4},{"x":6.50,"y":38.0},{"x":3.20,"y":37.0},{"x":4.0,"y":37.0},{"x":5.18,"y":37.0},{"x":5.28,"y":37.0},{"x":6.21,"y":37.0},{"x":5.39,"y":36.1},{"x":8.90,"y":35.9},{"x":4.50,"y":35.2},{"x":6.91,"y":35.2},{"x":5.60,"y":34.0},{"x":7.29,"y":34.3},{"x":6.97,"y":33.3},{"x":7.80,"y":33.1},{"x":7.40,"y":32.4},{"x":7.04,"y":32.2},{"x":6.87,"y":31.5},{"x":7.40,"y":31.0},{"x":3.42,"y":31.0},{"x":5.39,"y":31.0},{"x":5.22,"y":31.5},{"x":5.10,"y":30.1},{"x":6.0,"y":30.1},{"x":4.40,"y":29.2},{"x":4.80,"y":29.0},{"x":6.21,"y":29.0},{"x":7.80,"y":29.0},{"x":7.40,"y":28.7},{"x":5.60,"y":28.3},{"x":4.93,"y":27.8},{"x":8.69,"y":28.1},{"x":8.81,"y":26.9},{"x":4.48,"y":26.9},{"x":5.59,"y":26.2},{"x":6.60,"y":26.1},{"x":5.85,"y":26.2},{"x":6.0,"y":25.5},{"x":6.15,"y":25.0},{"x":4.40,"y":23.6},{"x":5.94,"y":23.6},{"x":6.30,"y":23.2},{"x":3.91,"y":22.0},{"x":7.99,"y":22.0},{"x":6.09,"y":21.3},{"x":6.79,"y":21.1},{"x":7.02,"y":21.1},{"x":7.69,"y":19.9},{"x":4.90,"y":19.5},{"x":6.0,"y":19.5},{"x":9.21,"y":19.0},{"x":7.10,"y":18.3},{"x":7.21,"y":18.1},{"x":5.88,"y":17.8},{"x":4.90,"y":16.7},{"x":3.42,"y":16.0},{"x":9.0,"y":15.1},{"x":8.88,"y":14.1},{"x":7.59,"y":14.1},{"x":6.79,"y":14.1},{"x":4.90,"y":14.2},{"x":3.81,"y":11.9},{"x":7.10,"y":11.9},{"x":6.91,"y":8.85},{"x":9.20,"y":8.2},{"x":4.91,"y":8.2},{"x":5.31,"y":8.85},{"x":5.20,"y":6.8},{"x":6.0,"y":5.8},{"x":6.68,"y":3.0},{"x":6.82,"y":2.1},{"x":7.59,"y":0.07},{"x":4.49,"y":-0.85},{"x":4.61,"y":-3.0},{"x":6.89,"y":-3.9},{"x":8.10,"y":-3.9},{"x":6.60,"y":-8.0},{"x":5.91,"y":-8.7},{"x":5.91,"y":-9.9},{"x":5.81,"y":-12.9},{"x":6.39,"y":-21.0},{"x":3.49,"y":-28.9}
  ]},
   "mark": {"type": "circle", "size": 296, "color": "black", "opacity": 1},
   "encoding": {
    "x": {"field": "x", "type": "quantitative", "scale": {"domain": [2.32, 10.28], "range": [315.1, 893.5], "nice": false, "zero": false},
          "axis": {"zindex": 1, "format": "d", "values": [4, 6, 8, 10], "offset": -311.9, "labelPadding": 55.9, "labelAngle": 0, "labelAlign": "center", "labelBaseline": "alphabetic", "title": "Serum Uric acid (mg/dl)", "titleAngle": 0, "titleX": 553.2, "titleY": 191.3}},
    "y": {"field": "y", "type": "quantitative", "scale": {"domain": [-32.3, 56.45], "range": [568.1, 119.9], "nice": false, "zero": false},
          "axis": {"zindex": 1, "format": "d", "values": [-20, 0, 20, 40], "labelExpr": "datum.value < 0 ? '-' + abs(datum.value) : datum.label", "offset": -315.1, "labelPadding": 30.3, "labelAngle": 270, "labelAlign": "center", "labelBaseline": "alphabetic", "title": "AIx (%)", "titleFontSize": 54, "titleAngle": 270, "titleX": -187.2, "titleY": 351.6}}
   }}
 ]
},
{
 "width": 967, "height": 880,
 "layer": [
  {"data": {"values": [{}]}, "mark": {"type": "rect", "fill": "white"},
   "encoding": {"x": {"datum": 1.1066, "type": "quantitative", "scale": {"domain": [1.3055, 2.569], "range": [360.8, 918.6], "nice": false, "zero": false}}, "x2": {"datum": 2.6786},
                "y": {"datum": -57.27, "type": "quantitative", "scale": {"domain": [-32.3, 56.3], "range": [536.9, 133.0], "nice": false, "zero": false}}, "y2": {"datum": 66.66}}},
  {"data": {"values": [{}]}, "mark": {"type": "rect", "fillOpacity": 0, "stroke": "black", "strokeWidth": 2.2},
   "encoding": {"x": {"datum": 1.3055, "type": "quantitative", "scale": {"domain": [1.3055, 2.569], "range": [360.8, 918.6], "nice": false, "zero": false}}, "x2": {"datum": 2.569},
                "y": {"datum": -32.3, "type": "quantitative", "scale": {"domain": [-32.3, 56.3], "range": [536.9, 133.0], "nice": false, "zero": false}}, "y2": {"datum": 56.3}}},
  {"data": {"values": [
{"x":1.482,"y":52.0},{"x":1.710,"y":52.0},{"x":1.931,"y":53.2},{"x":1.980,"y":52.0},{"x":1.700,"y":47.9},{"x":1.820,"y":48.9},{"x":2.142,"y":48.9},{"x":1.641,"y":40.0},{"x":2.061,"y":41.0},{"x":1.720,"y":36.8},{"x":1.976,"y":36.8},{"x":1.997,"y":36.8},{"x":2.211,"y":38.0},{"x":1.860,"y":35.1},{"x":2.099,"y":35.9},{"x":2.101,"y":35.1},{"x":1.894,"y":32.8},{"x":2.110,"y":31.0},{"x":1.541,"y":28.9},{"x":1.676,"y":28.9},{"x":1.970,"y":29.8},{"x":1.899,"y":27.9},{"x":1.927,"y":27.9},{"x":1.638,"y":26.1},{"x":1.801,"y":26.1},{"x":1.953,"y":26.1},{"x":2.122,"y":26.1},{"x":2.522,"y":26.9},{"x":1.501,"y":24.9},{"x":1.772,"y":24.0},{"x":2.103,"y":24.3},{"x":2.086,"y":22.1},{"x":2.103,"y":20.8},{"x":1.351,"y":17.9},{"x":1.460,"y":19.9},{"x":1.980,"y":20.0},{"x":2.005,"y":19.0},{"x":2.099,"y":19.0},{"x":1.959,"y":14.9},{"x":2.103,"y":14.1},{"x":2.124,"y":14.1},{"x":2.309,"y":14.1},{"x":2.061,"y":8.2},{"x":2.399,"y":8.2},{"x":1.860,"y":5.9},{"x":2.142,"y":-0.7},{"x":2.150,"y":-3.0},{"x":1.908,"y":-4.0},{"x":2.431,"y":-29.1}
  ]},
   "mark": {"type": "circle", "size": 272, "color": "black", "opacity": 1},
   "encoding": {
    "x": {"field": "x", "type": "quantitative", "scale": {"domain": [1.3055, 2.569], "range": [360.8, 918.6], "nice": false, "zero": false},
          "axis": {"zindex": 1, "values": [1.4, 1.6, 1.8, 2.0, 2.2, 2.4], "format": ".1f", "offset": -343.1, "labelPadding": 50.3, "labelAngle": 0, "labelAlign": "center", "labelBaseline": "alphabetic", "title": "Serum magnesium (mg/dl)", "titleAngle": 0, "titleX": 602.7, "titleY": 222.5}},
    "y": {"field": "y", "type": "quantitative", "scale": {"domain": [-32.3, 56.3], "range": [536.9, 133.0], "nice": false, "zero": false},
          "axis": {"zindex": 1, "format": "d", "values": [-20, 0, 20, 40], "labelExpr": "datum.value < 0 ? '-' + abs(datum.value) : datum.label", "offset": -360.8, "labelPadding": 27.2, "labelAngle": 270, "labelAlign": "center", "labelBaseline": "alphabetic", "title": "AIx (%)", "titleFontSize": 54, "titleAngle": 270, "titleX": -158.3, "titleY": 363}}
   }}
 ]
},
{
 "width": 967, "height": 816,
 "layer": [
  {"data": {"values": [{}]}, "mark": {"type": "rect", "fill": "white"},
   "encoding": {"x": {"datum": 3.025, "type": "quantitative", "scale": {"domain": [4.483, 13.52], "range": [279.9, 876.1], "nice": false, "zero": false}}, "x2": {"datum": 14.208},
                "y": {"datum": 55.19, "type": "quantitative", "scale": {"domain": [80.74, 219.2], "range": [597.7, 136.1], "nice": false, "zero": false}}, "y2": {"datum": 233.75}}},
  {"data": {"values": [{}]}, "mark": {"type": "rect", "fillOpacity": 0, "stroke": "black", "strokeWidth": 2.2},
   "encoding": {"x": {"datum": 4.483, "type": "quantitative", "scale": {"domain": [4.483, 13.52], "range": [279.9, 876.1], "nice": false, "zero": false}}, "x2": {"datum": 13.52},
                "y": {"datum": 80.74, "type": "quantitative", "scale": {"domain": [80.74, 219.2], "range": [597.7, 136.1], "nice": false, "zero": false}}, "y2": {"datum": 219.2}}},
  {"data": {"values": [
{"x":5.50,"y":213.9},{"x":5.40,"y":194.8},{"x":6.19,"y":190.6},{"x":7.01,"y":187.7},{"x":5.62,"y":187.7},{"x":6.50,"y":185.9},{"x":6.72,"y":184.9},{"x":6.21,"y":184.0},{"x":6.0,"y":180.4},{"x":7.89,"y":172.0},{"x":5.71,"y":170.1},{"x":5.85,"y":169.1},{"x":9.48,"y":165.8},{"x":6.82,"y":166.8},{"x":6.48,"y":166.2},{"x":5.79,"y":165.8},{"x":6.58,"y":162.9},{"x":5.73,"y":161.5},{"x":6.10,"y":161.5},{"x":5.62,"y":158.6},{"x":6.0,"y":157.9},{"x":8.47,"y":156.9},{"x":6.10,"y":155.7},{"x":7.79,"y":155.0},{"x":6.12,"y":152.9},{"x":6.31,"y":152.6},{"x":6.60,"y":153.1},{"x":5.21,"y":150.7},{"x":9.28,"y":150.7},{"x":7.39,"y":147.8},{"x":7.37,"y":145.7},{"x":6.41,"y":147.1},{"x":9.98,"y":147.1},{"x":11.37,"y":147.8},{"x":11.79,"y":144.2},{"x":5.60,"y":145.0},{"x":9.39,"y":145.0},{"x":4.80,"y":143.1},{"x":4.91,"y":141.4},{"x":5.90,"y":142.8},{"x":6.48,"y":141.4},{"x":6.72,"y":142.8},{"x":7.07,"y":141.1},{"x":9.07,"y":141.1},{"x":5.64,"y":140.2},{"x":5.79,"y":138.5},{"x":5.47,"y":137.8},{"x":8.19,"y":138.8},{"x":9.48,"y":137.8},{"x":5.20,"y":136.3},{"x":5.71,"y":134.9},{"x":6.10,"y":133.5},{"x":5.69,"y":132.7},{"x":7.30,"y":133.0},{"x":7.07,"y":131.7},{"x":7.30,"y":128.7},{"x":5.98,"y":130.6},{"x":5.09,"y":130.6},{"x":6.72,"y":127.0},{"x":6.82,"y":124.8},{"x":8.19,"y":126.0},{"x":10.68,"y":127.0},{"x":6.29,"y":123.7},{"x":7.61,"y":123.1},{"x":7.61,"y":118.8},{"x":9.09,"y":123.1},{"x":8.98,"y":121.0},{"x":8.69,"y":121.0},{"x":8.45,"y":121.0},{"x":9.77,"y":122.0},{"x":5.90,"y":121.3},{"x":8.57,"y":119.8},{"x":8.19,"y":119.1},{"x":8.09,"y":116.9},{"x":6.48,"y":116.9},{"x":6.65,"y":116.9},{"x":7.01,"y":117.4},{"x":5.81,"y":115.8},{"x":6.86,"y":113.4},{"x":6.41,"y":112.6},{"x":5.40,"y":110.9},{"x":6.0,"y":111.2},{"x":6.94,"y":111.5},{"x":12.94,"y":110.9},{"x":7.01,"y":108.6},{"x":9.71,"y":106.9},{"x":8.30,"y":105.2},{"x":8.48,"y":105.9},{"x":6.50,"y":103.6},{"x":8.90,"y":103.6},{"x":7.51,"y":99.7},{"x":8.19,"y":99.7},{"x":6.91,"y":95.7},{"x":7.07,"y":94.0},{"x":6.50,"y":94.0},{"x":6.12,"y":92.8},{"x":8.02,"y":90.7},{"x":7.30,"y":87.8},{"x":9.48,"y":86.1}
  ]},
   "mark": {"type": "circle", "size": 353, "color": "black", "opacity": 1},
   "encoding": {
    "x": {"field": "x", "type": "quantitative", "scale": {"domain": [4.483, 13.52], "range": [279.9, 876.1], "nice": false, "zero": false},
          "axis": {"zindex": 1, "format": "d", "values": [6, 8, 10, 12], "offset": -218.3, "labelPadding": 59.9, "labelAngle": 0, "labelAlign": "center", "labelBaseline": "alphabetic", "title": "HbA1c (%)", "titleAngle": 0, "titleX": 551.6, "titleY": 204.5}},
    "y": {"field": "y", "type": "quantitative", "scale": {"domain": [80.74, 219.2], "range": [597.7, 136.1], "nice": false, "zero": false},
          "axis": {"zindex": 1, "format": "d", "values": [100, 120, 140, 160, 180, 200], "labelExpr": "(datum.value == 120 || datum.value == 160 || datum.value == 200) ? '' : datum.label", "offset": -279.9, "labelPadding": 33.1, "labelAngle": 270, "labelAlign": "center", "labelBaseline": "alphabetic", "title": "Buckberg Index (%)", "titleAngle": 270, "titleX": -162.7, "titleY": 399.2}}
   }}
 ]
}
]
}
